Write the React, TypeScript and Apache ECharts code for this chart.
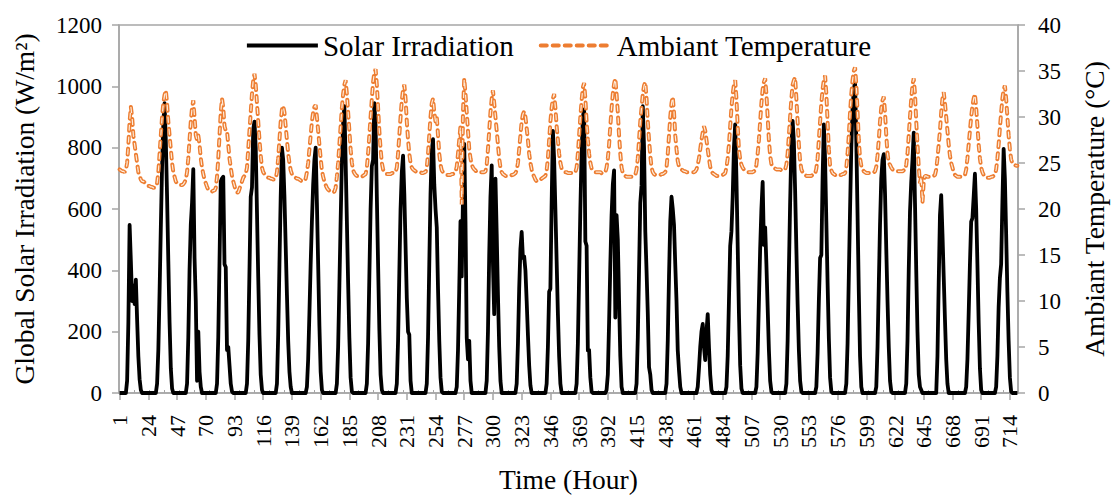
import React, { useEffect, useRef } from "react";
import * as echarts from "echarts";

const FONT = '"Liberation Serif", "Times New Roman", serif';

// Hour labels on the category axis (1 .. 720)
const hours: string[] = Array.from({ length: 720 }, (_, i) => String(i + 1));

// Global solar irradiation (W/m²), one row of 24 hourly values per day
const solarByDay: number[][] = [
  [0,0,0,0,0,0,40,230,548,430,300,350,290,370,240,120,45,10,0,0,0,0,0,0],
  [0,0,0,0,0,0,30,140,330,540,740,880,945,820,640,430,230,80,15,0,0,0,0,0],
  [0,0,0,0,0,0,30,180,400,550,620,730,440,300,40,200,70,20,0,0,0,0,0,0],
  [0,0,0,0,0,0,30,180,430,690,700,705,420,410,140,150,90,30,5,0,0,0,0,0],
  [0,0,0,0,0,0,30,170,400,640,670,860,885,800,590,380,190,60,10,0,0,0,0,0],
  [0,0,0,0,0,0,30,190,420,640,800,760,640,480,320,170,70,20,0,0,0,0,0,0],
  [0,0,0,0,0,0,20,110,260,420,560,680,760,800,620,420,220,70,10,0,0,0,0,0],
  [0,0,0,0,0,0,30,150,350,560,750,880,935,760,560,360,180,50,5,0,0,0,0,0],
  [0,0,0,0,0,0,30,160,380,600,740,760,945,870,640,420,210,60,10,0,0,0,0,0],
  [0,0,0,0,0,0,30,170,390,600,720,774,650,480,310,200,190,40,0,0,0,0,0,0],
  [0,0,0,0,0,0,30,180,420,650,790,828,680,600,540,340,170,50,5,0,0,0,0,0],
  [0,0,0,0,0,0,20,140,340,560,380,640,812,560,180,110,170,40,0,0,0,0,0,0],
  [0,0,0,0,0,0,40,200,450,640,742,420,257,699,520,320,150,40,0,0,0,0,0,0],
  [0,0,0,0,0,0,30,160,340,470,525,440,445,400,300,190,90,25,0,0,0,0,0,0],
  [0,0,0,0,0,0,30,150,330,340,620,855,760,600,430,260,120,30,0,0,0,0,0,0],
  [0,0,0,0,0,0,30,160,380,600,780,900,925,494,480,139,140,50,5,0,0,0,0,0],
  [0,0,0,0,0,0,10,60,230,420,580,680,726,246,580,500,300,120,20,0,0,0,0,0],
  [0,0,0,0,0,0,30,180,400,620,677,935,800,527,400,260,84,60,10,0,0,0,0,0],
  [0,0,0,0,0,0,30,170,380,560,640,600,548,420,300,139,74,20,0,0,0,0,0,0],
  [0,0,0,0,0,0,0,20,80,150,200,225,150,107,200,257,150,60,10,0,0,0,0,0],
  [0,0,0,0,0,0,20,120,300,480,527,640,800,876,700,480,260,90,15,0,0,0,0,0],
  [0,0,0,0,0,0,20,130,300,470,600,688,483,540,420,280,140,40,5,0,0,0,0,0],
  [0,0,0,0,0,0,30,170,400,620,800,887,820,660,470,290,140,40,5,0,0,0,0,0],
  [0,0,0,0,0,0,20,130,300,440,450,700,876,760,560,360,180,50,5,0,0,0,0,0],
  [0,0,0,0,0,0,30,160,380,600,800,930,990,1015,820,580,330,120,20,0,0,0,0,0],
  [0,0,0,0,0,0,20,150,350,550,700,760,779,650,470,300,150,40,5,0,0,0,0,0],
  [0,0,0,0,0,0,30,170,400,592,688,760,849,620,400,200,60,20,10,0,0,0,0,0],
  [0,0,0,0,0,0,0,120,360,580,645,520,380,240,110,30,0,0,0,0,0,0,0,0],
  [0,0,0,0,0,0,20,110,260,420,559,570,640,715,600,420,230,80,10,0,0,0,0,0],
  [0,0,0,0,0,0,20,120,280,375,420,620,796,700,520,330,170,50,5,0,0,0,0,0],
];

// Ambient temperature (°C), one row of 24 hourly values per day
const tempByDay: number[][] = [
  [24.3,24.2,24.1,24.1,24.0,24.2,25.0,27.0,29.5,31.1,30.0,28.0,27.0,26.0,25.0,24.0,23.6,23.2,23.0,23.0,22.9,22.8,22.6,22.5],
  [22.5,22.4,22.4,22.3,22.3,22.4,22.8,24.0,26.0,28.0,30.0,31.5,32.4,32.9,31.5,29.5,28.0,26.5,25.0,24.0,23.5,23.0,22.8,22.7],
  [22.7,22.6,22.6,22.7,22.9,23.2,24.0,25.5,27.5,29.5,31.0,31.8,30.0,28.0,27.5,28.0,27.0,25.5,24.5,23.8,23.2,22.8,22.4,22.1],
  [22.0,21.9,21.9,22.0,22.0,22.3,23.5,25.5,28.0,30.5,32.0,31.0,29.0,28.5,28.5,27.0,25.5,24.5,23.6,23.0,22.5,22.0,21.8,21.8],
  [22.2,22.6,23.0,23.4,23.6,23.8,24.5,26.5,28.5,30.5,32.5,34.0,34.7,33.5,31.5,29.5,27.5,25.8,24.5,24.0,23.8,23.6,23.5,23.4],
  [23.4,23.3,23.3,23.2,23.2,23.3,24.0,25.5,27.5,29.5,30.8,31.2,30.5,29.0,27.5,26.0,25.0,24.2,23.8,23.6,23.5,23.4,23.3,23.3],
  [23.2,23.1,23.0,23.0,23.1,23.3,24.0,25.0,26.5,28.0,29.5,30.5,31.1,31.3,30.0,28.5,27.0,25.5,24.2,23.5,23.0,22.6,22.3,22.1],
  [22.0,21.9,21.8,21.8,21.9,22.3,23.5,25.0,27.0,29.0,31.0,32.5,33.5,34.0,32.5,30.5,28.5,26.5,25.0,24.2,23.9,23.7,23.6,23.6],
  [23.6,23.5,23.5,23.6,23.7,23.8,24.5,26.0,28.0,30.0,32.0,33.8,34.8,35.2,33.5,31.0,28.5,26.5,25.0,24.3,24.0,23.9,23.8,23.8],
  [23.8,23.8,23.9,23.9,24.0,24.0,24.5,26.0,28.0,30.0,31.8,33.0,33.5,32.0,29.5,27.5,26.0,25.0,24.5,24.3,24.2,24.1,24.0,24.0],
  [24.0,24.0,23.9,23.9,24.0,24.0,24.5,26.0,28.0,30.0,31.5,32.0,30.5,29.5,30.0,28.0,26.0,24.8,24.2,24.0,23.9,23.8,23.7,23.7],
  [23.7,23.7,23.8,23.8,23.9,24.0,24.6,26.0,27.5,29.0,20.5,30.5,34.2,32.5,30.5,28.5,26.5,25.5,24.8,24.5,24.3,24.2,24.0,24.0],
  [24.0,24.0,24.0,24.0,24.0,24.1,24.8,26.5,28.5,30.5,32.0,32.9,31.5,30.0,28.5,27.0,25.5,24.5,24.0,23.8,23.7,23.6,23.6,23.6],
  [23.6,23.6,23.7,23.7,23.8,23.9,24.2,25.0,26.5,28.0,29.5,30.3,30.6,30.0,28.8,27.5,26.0,25.0,24.3,23.8,23.5,23.2,23.0,23.0],
  [23.1,23.2,23.3,23.4,23.5,23.6,24.2,25.5,27.5,29.5,31.0,32.0,32.5,31.0,29.0,27.5,26.0,25.0,24.4,24.2,24.1,24.0,24.0,23.9],
  [23.9,23.9,23.9,24.0,24.0,24.0,24.5,26.0,28.0,30.0,31.8,33.2,33.7,32.0,29.5,27.5,26.0,25.0,24.4,24.2,24.1,24.0,24.0,24.0],
  [24.0,24.0,23.9,23.9,23.9,24.0,24.5,25.5,27.0,29.0,31.0,32.5,33.6,34.2,32.5,30.5,28.0,26.0,24.5,23.9,23.7,23.6,23.5,23.5],
  [23.5,23.5,23.5,23.6,23.6,23.7,24.3,25.5,27.5,29.5,31.0,32.5,33.4,33.8,32.0,29.5,27.5,25.8,24.5,24.0,23.8,23.7,23.7,23.7],
  [23.7,23.7,23.8,23.8,23.9,24.0,24.5,26.0,28.0,30.0,31.5,32.2,30.5,28.0,26.5,25.2,24.6,24.4,24.3,24.2,24.1,24.1,24.0,24.0],
  [24.0,24.0,24.0,24.0,24.0,24.1,24.3,24.8,25.5,26.5,27.5,28.3,29.0,28.5,27.5,26.5,25.5,24.6,24.1,23.9,23.8,23.7,23.6,23.6],
  [23.6,23.6,23.7,23.7,23.8,23.9,24.5,25.5,27.0,29.0,31.0,32.5,33.5,34.0,32.0,29.0,26.5,25.4,24.8,24.5,24.3,24.2,24.1,24.0],
  [24.0,24.0,24.0,24.0,24.1,24.2,24.8,26.0,27.5,29.5,31.5,33.0,33.8,34.2,32.5,30.0,27.5,25.8,24.9,24.6,24.5,24.4,24.3,24.3],
  [24.3,24.3,24.2,24.2,24.2,24.3,24.8,26.0,28.0,30.0,32.0,33.5,34.0,34.3,32.0,29.5,27.0,25.2,24.3,24.0,23.8,23.7,23.6,23.6],
  [23.6,23.6,23.6,23.7,23.7,23.8,24.4,25.5,27.5,29.5,31.5,33.0,34.0,34.5,32.5,29.5,26.5,24.7,24.2,23.9,23.8,23.7,23.6,23.6],
  [23.6,23.7,23.7,23.8,23.8,23.9,24.5,26.0,28.0,30.5,32.5,34.0,35.0,35.4,33.5,30.5,27.5,25.5,24.7,24.3,24.1,24.0,23.9,23.9],
  [23.9,23.9,24.0,24.0,24.0,24.1,24.6,25.8,27.5,29.5,31.0,31.8,32.2,30.5,28.0,26.0,25.0,24.8,24.5,24.3,24.2,24.2,24.1,24.1],
  [24.1,24.1,24.1,24.1,24.2,24.2,24.8,26.0,28.0,30.0,32.0,33.5,34.2,32.5,29.5,27.0,24.6,22.8,23.6,20.7,23.0,23.6,23.6,23.5],
  [23.5,23.5,23.5,23.6,23.6,23.7,24.3,25.5,27.0,28.5,30.5,32.0,32.7,31.5,30.0,28.5,27.0,25.8,25.0,24.5,24.0,23.7,23.6,23.5],
  [23.5,23.5,23.5,23.6,23.6,23.7,24.3,25.5,27.0,28.5,30.0,31.2,32.0,32.5,31.0,29.0,27.0,25.5,24.5,24.0,23.7,23.5,23.4,23.4],
  [23.4,23.4,23.5,23.5,23.6,23.7,24.3,25.5,27.0,28.8,30.5,32.0,33.0,33.4,32.0,30.0,28.0,26.5,25.4,25.0,24.8,24.8,24.7,24.7],
];

const solar: number[] = solarByDay.flat();
const temperature: number[] = tempByDay.flat();

const AXIS_GREY = "#a6a6a6";
const ORANGE = "#ED7D31";
const CORE = "#fdebd9";

export default function App() {
  const ref = useRef<HTMLDivElement>(null);

  useEffect(() => {
    document.body.style.margin = "0";
    if (!ref.current) return;
    const chart = echarts.init(ref.current, undefined, { renderer: "svg" });
    const option: any = {
      animation: false,
      backgroundColor: "#ffffff",
      textStyle: { fontFamily: FONT, color: "#000" },
      grid: {
        left: 119,
        right: 97,
        top: 25,
        bottom: 102,
        show: true,
        borderColor: AXIS_GREY,
        borderWidth: 1.5,
        backgroundColor: "transparent",
      },
      legend: {
        left: 240,
        top: 26,
        itemWidth: 71,
        itemHeight: 14,
        itemGap: 25,
        itemStyle: { opacity: 0, borderWidth: 0 },
        lineStyle: { width: "inherit" },
        textStyle: { fontFamily: FONT, fontSize: 29, color: "#000" },
        data: ["Solar Irradiation", "Ambiant Temperature"],
      },
      xAxis: [
        {
          type: "category",
          data: hours,
          boundaryGap: true,
          axisLine: { show: true, lineStyle: { color: AXIS_GREY, width: 1.5 } },
          axisTick: {
            show: true,
            interval: 22,
            alignWithLabel: true,
            length: 7,
            lineStyle: { color: AXIS_GREY, width: 1.5 },
          },
          axisLabel: {
            interval: 22,
            rotate: 90,
            fontFamily: FONT,
            fontSize: 22,
            color: "#000",
            margin: 22,
          },
          splitLine: { show: false },
          name: "Time (Hour)",
          nameLocation: "middle",
          nameGap: 72,
          nameTextStyle: { fontFamily: FONT, fontSize: 27.5, color: "#000" },
        },
        {
          type: "category",
          data: hours,
          boundaryGap: true,
          position: "bottom",
          axisLine: { show: false },
          axisTick: {
            show: true,
            inside: true,
            interval: 5,
            length: 3,
            lineStyle: { color: AXIS_GREY, width: 1 },
          },
          axisLabel: { show: false },
          splitLine: { show: false },
        },
      ],
      yAxis: [
        {
          type: "value",
          min: 0,
          max: 1200,
          interval: 200,
          position: "left",
          axisLine: { show: true, lineStyle: { color: AXIS_GREY, width: 1.5 } },
          axisTick: { show: true, length: 7, lineStyle: { color: AXIS_GREY, width: 1.5 } },
          axisLabel: {
            fontFamily: FONT,
            fontSize: 23,
            color: "#000",
            margin: 17,
            formatter: (v: number) => String(v),
          },
          splitLine: { show: false },
          name: "Global Solar Irradiation (W/m²)",
          nameLocation: "middle",
          nameRotate: 90,
          nameGap: 81,
          nameTextStyle: { fontFamily: FONT, fontSize: 27.5, color: "#000" },
        },
        {
          type: "value",
          min: 0,
          max: 40,
          interval: 5,
          position: "right",
          axisLine: { show: true, lineStyle: { color: AXIS_GREY, width: 1.5 } },
          axisTick: { show: true, length: 7, lineStyle: { color: AXIS_GREY, width: 1.5 } },
          axisLabel: {
            fontFamily: FONT,
            fontSize: 23,
            color: "#000",
            margin: 20,
            formatter: (v: number) => String(v),
          },
          splitLine: { show: false },
          name: "Ambiant Temperature (°C)",
          nameLocation: "middle",
          nameRotate: 90,
          nameGap: 62,
          nameTextStyle: { fontFamily: FONT, fontSize: 27.5, color: "#000" },
        },
      ],
      series: [
        {
          name: "Solar Irradiation",
          type: "line",
          xAxisIndex: 0,
          yAxisIndex: 0,
          data: solar,
          symbol: "none",
          showSymbol: false,
          z: 2,
          lineStyle: { color: "#000", width: 3.8, join: "round" },
          itemStyle: { color: "#000" },
          emphasis: { disabled: true },
        },
        {
          name: "Ambiant Temperature",
          type: "line",
          xAxisIndex: 0,
          yAxisIndex: 1,
          data: temperature,
          symbol: "none",
          showSymbol: false,
          z: 3,
          lineStyle: { color: ORANGE, width: 4, type: [6, 6], cap: "round" },
          itemStyle: { color: ORANGE },
          emphasis: { disabled: true },
        },
        {
          name: "temperature-core",
          type: "line",
          xAxisIndex: 0,
          yAxisIndex: 1,
          data: temperature,
          symbol: "none",
          showSymbol: false,
          silent: true,
          z: 4,
          lineStyle: { color: CORE, width: 1.2, type: [6, 6], cap: "butt" },
          itemStyle: { color: CORE },
          emphasis: { disabled: true },
        },
      ],
    };
    chart.setOption(option);
    return () => chart.dispose();
  }, []);

  return (
    <div
      ref={ref}
      style={{ position: "absolute", left: 0, top: 0, width: 1116, height: 498, background: "#fff" }}
    />
  );
}
